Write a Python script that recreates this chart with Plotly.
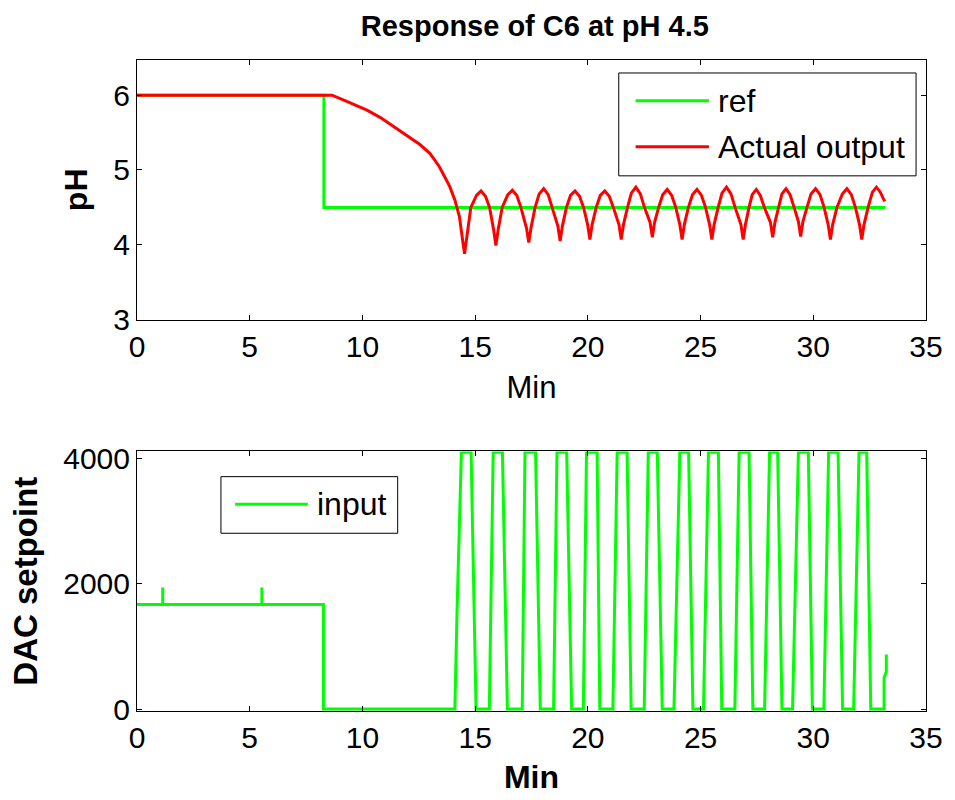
import plotly.graph_objects as go

# ---------------- data ----------------
ref_time = [0.0, 8.29, 8.29, 33.2]
ref_ph = [6.0, 6.0, 4.5, 4.5]

actual_time = [
    0.0, 8.65, 9.2, 9.6, 10.2, 10.8, 11.4, 12.0, 12.55, 13.0, 13.4, 13.7, 13.87, 14.1, 14.3, 14.45,
    14.53, 14.63, 14.81, 15.06, 15.26, 15.46, 15.64, 15.82,
    15.92, 16.02, 16.20, 16.45, 16.65, 16.85, 17.03, 17.28,
    17.38, 17.48, 17.66, 17.84, 18.04, 18.24, 18.42, 18.67,
    18.77, 18.87, 19.05, 19.23, 19.43, 19.63, 19.81, 19.99,
    20.09, 20.19, 20.37, 20.55, 20.75, 20.95, 21.13, 21.38,
    21.48, 21.58, 21.76, 21.93, 22.13, 22.33, 22.51, 22.76,
    22.86, 22.96, 23.14, 23.32, 23.52, 23.72, 23.90, 24.08,
    24.18, 24.28, 24.46, 24.64, 24.84, 25.04, 25.22, 25.40,
    25.50, 25.60, 25.78, 25.95, 26.15, 26.35, 26.53, 26.79,
    26.89, 26.99, 27.15, 27.29, 27.47, 27.65, 27.83, 28.10,
    28.20, 28.30, 28.46, 28.61, 28.79, 28.97, 29.15, 29.34,
    29.44, 29.54, 29.72, 29.90, 30.10, 30.30, 30.48, 30.66,
    30.76, 30.86, 31.05, 31.29, 31.49, 31.69, 31.87, 32.05,
    32.15, 32.25, 32.43, 32.62, 32.80, 32.98, 33.10, 33.17,
]
actual_ph = [
    6.0, 6.0, 5.93, 5.88, 5.80, 5.70, 5.58, 5.46, 5.34, 5.22, 5.05, 4.88, 4.78, 4.60, 4.38, 4.05,
    3.88, 4.10, 4.50, 4.66, 4.72, 4.65, 4.50, 4.20,
    3.99, 4.20, 4.50, 4.67, 4.73, 4.66, 4.50, 4.22,
    4.03, 4.23, 4.50, 4.68, 4.75, 4.67, 4.50, 4.25,
    4.05, 4.25, 4.50, 4.66, 4.72, 4.65, 4.50, 4.27,
    4.07, 4.27, 4.50, 4.66, 4.72, 4.65, 4.50, 4.27,
    4.07, 4.27, 4.50, 4.69, 4.77, 4.68, 4.50, 4.30,
    4.10, 4.30, 4.50, 4.67, 4.74, 4.66, 4.50, 4.27,
    4.07, 4.27, 4.50, 4.67, 4.74, 4.66, 4.50, 4.27,
    4.07, 4.27, 4.50, 4.69, 4.77, 4.68, 4.50, 4.27,
    4.07, 4.27, 4.50, 4.67, 4.74, 4.66, 4.50, 4.30,
    4.10, 4.30, 4.50, 4.68, 4.75, 4.67, 4.50, 4.31,
    4.11, 4.31, 4.50, 4.68, 4.75, 4.67, 4.50, 4.27,
    4.07, 4.27, 4.50, 4.68, 4.75, 4.67, 4.50, 4.27,
    4.07, 4.27, 4.50, 4.70, 4.77, 4.70, 4.62, 4.58,
]

input_time = [
    0.0, 1.14, 1.14, 1.14, 5.54, 5.54, 5.54, 8.27, 8.27,
    14.10, 14.20, 14.39, 14.82, 15.04,
    15.63, 15.80, 16.21, 16.43,
    17.09, 17.21, 17.68, 17.89,
    18.48, 18.63, 19.06, 19.28,
    19.80, 19.94, 20.41, 20.53,
    21.11, 21.30, 21.74, 21.92,
    22.50, 22.68, 23.08, 23.30,
    23.82, 24.08, 24.47, 24.66,
    25.13, 25.35, 25.79, 25.94,
    26.52, 26.71, 27.15, 27.32,
    27.84, 28.06, 28.42, 28.61,
    29.08, 29.34, 29.78, 29.96,
    30.47, 30.68, 31.10, 31.30,
    31.79, 32.03, 32.37, 32.55,
    33.14, 33.14, 33.24, 33.24,
]
input_dac = [
    1670, 1670, 1940, 1670, 1670, 1940, 1670, 1670, 0,
    0, 1600, 4095, 4095, 0,
    0, 4095, 4095, 0,
    0, 4095, 4095, 0,
    0, 4095, 4095, 0,
    0, 4095, 4095, 0,
    0, 4095, 4095, 0,
    0, 4095, 4095, 0,
    0, 4095, 4095, 0,
    0, 4095, 4095, 0,
    0, 4095, 4095, 0,
    0, 4095, 4095, 0,
    0, 4095, 4095, 0,
    0, 4095, 4095, 0,
    0, 4095, 4095, 0,
    0, 500, 600, 870,
]

x_ticks = [0, 5, 10, 15, 20, 25, 30, 35]
ph_ticks = [3, 4, 5, 6]
dac_ticks = [0, 2000, 4000]

GREEN = "#00FF00"
RED = "#FF0000"
FONT = "Liberation Sans, Arial, sans-serif"

fig = go.Figure()
fig.add_trace(go.Scatter(x=ref_time, y=ref_ph, mode="lines", name="ref",
                         line=dict(color=GREEN, width=3), xaxis="x", yaxis="y", showlegend=False))
fig.add_trace(go.Scatter(x=actual_time, y=actual_ph, mode="lines", name="Actual output",
                         line=dict(color=RED, width=3), xaxis="x", yaxis="y", showlegend=False))
fig.add_trace(go.Scatter(x=input_time, y=input_dac, mode="lines", name="input",
                         line=dict(color=GREEN, width=3), xaxis="x2", yaxis="y2", showlegend=False))

axis_common = dict(showline=True, linecolor="black", linewidth=1, mirror="ticks",
                   ticks="inside", ticklen=5, tickcolor="black", showgrid=False, zeroline=False,
                   tickfont=dict(family=FONT, size=30, color="black"))

fig.update_layout(
    width=955, height=800,
    margin=dict(l=137, r=22, t=60, b=88),
    paper_bgcolor="white", plot_bgcolor="white",
    font=dict(family=FONT, color="black"),
    title=dict(text="<b>Response of C6 at pH 4.5</b>", x=0.56, xanchor="center",
               y=0.968, yanchor="middle", font=dict(family=FONT, size=29, color="black")),
    xaxis=dict(domain=[0, 1], anchor="y", range=[0, 35], tickvals=x_ticks,
               title=dict(text="Min", font=dict(family=FONT, size=31), standoff=14), **axis_common),
    yaxis=dict(domain=[0.6012, 1], anchor="x", range=[3, 6.47], tickvals=ph_ticks,
               title=dict(text="<b>pH</b>", font=dict(family=FONT, size=32), standoff=16), **axis_common),
    xaxis2=dict(domain=[0, 1], anchor="y2", range=[0, 35], tickvals=x_ticks,
                title=dict(text="<b>Min</b>", font=dict(family=FONT, size=32), standoff=12), **axis_common),
    yaxis2=dict(domain=[0, 0.3988], anchor="x2", range=[-30, 4110], tickvals=dac_ticks,
                title=dict(text="<b>DAC setpoint</b>", font=dict(family=FONT, size=33), standoff=15),
                **axis_common),
)

# legends drawn as boxes with sample lines and text
def add_legend(xr, yr, box, items, fsize=32):
    x0, y0, x1, y1 = box
    fig.add_shape(type="rect", xref=xr, yref=yr, x0=x0, y0=y0, x1=x1, y1=y1,
                  line=dict(color="black", width=1), fillcolor="white", layer="above")
    for (lx0, lx1, ly, color, label, tx) in items:
        fig.add_shape(type="line", xref=xr, yref=yr, x0=lx0, x1=lx1, y0=ly, y1=ly,
                      line=dict(color=color, width=3), layer="above")
        fig.add_annotation(xref=xr, yref=yr, x=tx, y=ly, text=label, showarrow=False,
                           xanchor="left", yanchor="middle",
                           font=dict(family=FONT, size=fsize, color="black"))

add_legend("x domain", "y domain", (0.6106, 0.5538, 0.9874, 0.95),
           [(0.6319, 0.7249, 0.8435, GREEN, "ref", 0.7340),
            (0.6319, 0.7249, 0.6654, RED, "Actual output", 0.7340)])
add_legend("x2 domain", "y2 domain", (0.1064, 0.6846, 0.3304, 0.9027),
           [(0.1244, 0.2165, 0.7962, GREEN, "input", 0.2260)])

fig.write_html("out.html")
